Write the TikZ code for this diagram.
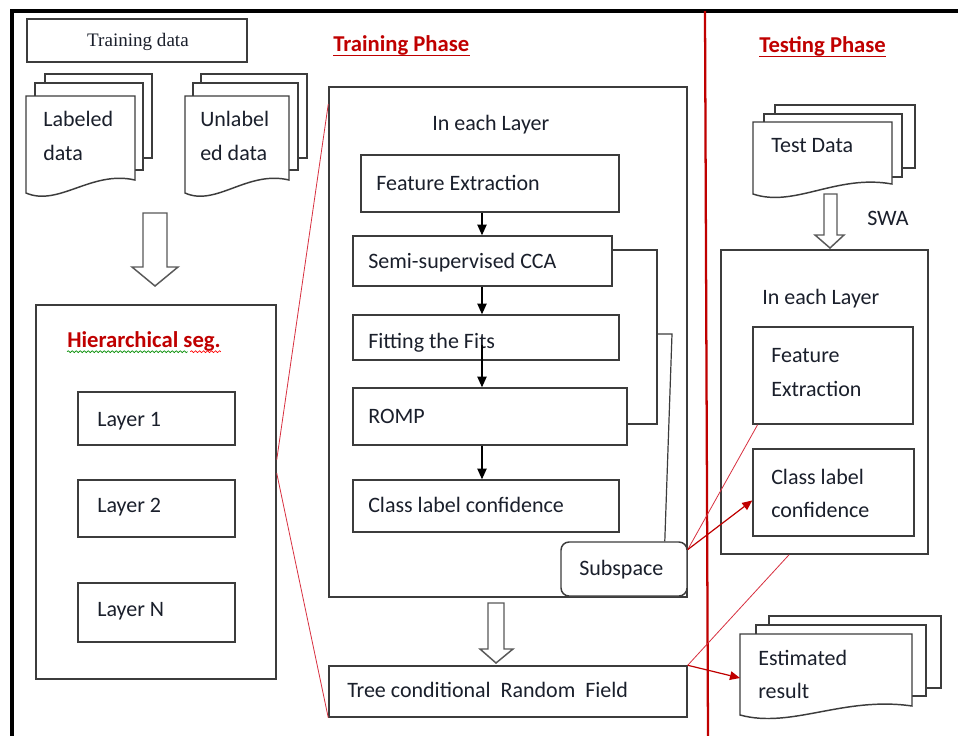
\documentclass[tikz,border=0pt]{standalone}
\usepackage{fontspec}
\setmainfont{Carlito}
\newfontfamily\serifdoc{Liberation Serif}
\usetikzlibrary{fit,arrows.meta,decorations.pathmorphing,calc}
\definecolor{dred}{HTML}{C00000}
\definecolor{lred}{HTML}{D83040}
\definecolor{ink}{HTML}{1A1F2B}
\definecolor{edge}{HTML}{3C3C3C}
\newcommand\frontdoc[5]{%
  \draw[docline] (#1,#2) -- (#3,#2) -- (#3,#5)
    .. controls ({#1+0.6*(#3-#1)},{#5-10}) and ({#1+0.3*(#3-#1)},{#4+14}) .. (#1,#4) -- cycle;}
\begin{document}
\begin{tikzpicture}[x=0.75pt,y=-0.75pt,
  box/.style={draw=edge,line width=1.1pt,fill=white,inner sep=0pt},
  rbox/.style={box,rounded corners=6pt},
  t/.style={anchor=base west,inner sep=0pt,text=ink,font=\fontsize{16.5}{20}\selectfont},
  docline/.style={draw=edge,line width=1.1pt,fill=white},
  hollow/.style={draw=edge!85,line width=1.1pt,fill=white},
  thinred/.style={draw=lred,line width=0.6pt},
  redarr/.style={draw=dred,line width=0.9pt,-{Triangle[width=6.5pt,length=7.5pt]}},
  blkarr/.style={draw=black,line width=0.9pt,-{Triangle[width=7pt,length=8pt]}},
  bracket/.style={draw=edge,line width=0.9pt},
  phase/.style={anchor=base west,inner sep=0pt,text=dred,font=\fontsize{17}{20}\selectfont\bfseries}
]
\useasboundingbox (0,0) rectangle (958,736);
\fill[white] (0,0) rectangle (958,736);

% frame and phase divider
\draw[black,line width=2.4pt] (12,736) -- (12,11) -- (958,11);
\draw[dred,line width=1.7pt] (705,11) -- (708,736);

% ---------- left column ----------
\node[box,fit={(27,19) (247,62)}] (td) {};
\node[anchor=base,inner sep=0pt,font=\serifdoc\fontsize{14.3}{16}\selectfont,text=ink] (tdtext) at (138,46) {Training data};

\draw[docline] (45,74) rectangle (152,158);
\draw[docline] (35,83) rectangle (143,170);
\frontdoc{26}{96}{135}{193}{180}
\node[t] (lab1) at (43,126) {Labeled};
\node[t] (lab2) at (43,160) {data};

\draw[docline] (201,74) rectangle (307,158);
\draw[docline] (193,83) rectangle (298,170);
\frontdoc{185}{96}{289}{193}{180}
\node[t] (unl1) at (200,126) {Unlabel};
\node[t] (unl2) at (200,160) {ed data};

\draw[hollow] (143,213) -- (167,213) -- (167,267) -- (178,267) -- (155,286) -- (132,267) -- (143,267) -- cycle;

\node[box,fit={(36,305) (276,679)}] (hier) {};
\node[phase] (hs) at (67,347) {Hierarchical seg.};
\draw[green!55!black,line width=0.5pt,decorate,decoration={snake,amplitude=0.7pt,segment length=3pt}]
  ([yshift=-3.5pt]hs.base west) -- ([yshift=-3.5pt,xshift=-25pt]hs.base east);
\draw[red,line width=0.5pt,decorate,decoration={snake,amplitude=0.7pt,segment length=3pt}]
  ([yshift=-3.5pt,xshift=-23pt]hs.base east) -- ([yshift=-3.5pt]hs.base east);

\node[box,fit={(78,392) (235,445)}] (l1) {};
\node[t] (l1t) at (97,426) {Layer 1};
\node[box,fit={(78,480) (235,537)}] (l2) {};
\node[t] (l2t) at (97,512) {Layer 2};
\node[box,fit={(78,583) (235,642)}] (ln) {};
\node[t] (lnt) at (97,616) {Layer N};

% ---------- training phase ----------
\node[phase] (tp) at (333,51) {Training Phase};
\draw[dred,line width=0.9pt] ([yshift=-3.5pt]tp.base west) -- ([yshift=-3.5pt]tp.base east);

\node[box,fit={(329,87) (687,597)}] (tr) {};
\node[t] (iel) at (432,130) {In each Layer};

\node[box,fit={(361,155) (619,212)}] (fe) {};
\node[t] (fet) at (376,190) {Feature Extraction};
\node[box,fit={(353,236) (612,286)}] (cca) {};
\node[t] (ccat) at (368,268) {Semi-supervised CCA};
\node[box,fit={(353,315) (619,360)}] (fit) {};
\node[t] (fitt) at (368,348) {Fitting the Fits};
\node[box,fit={(353,388) (627,445)}] (romp) {};
\node[t] (rompt) at (368,423) {ROMP};
\node[box,fit={(353,480) (619,532)}] (cl) {};
\node[t] (clt) at (368,512) {Class label confidence};

\draw[blkarr] (482,0 |- fe.south) -- (482,0 |- cca.north);
\draw[blkarr] (482,0 |- cca.south) -- (482,0 |- fit.north);
\draw[blkarr] (482,345) -- (482,0 |- romp.north);
\draw[blkarr] (482,0 |- romp.south) -- (482,0 |- cl.north);

\coordinate (bt) at (657,250);
\coordinate (bb) at (657,424);
\coordinate (bm) at (657,334);
\coordinate (bk) at (672,334);
\node[rbox,fit={(561,542) (687,596)}] (sub) {};
\node[t] (subt) at (579,575) {Subspace};
\draw[bracket] (bt -| cca.east) -- (bt) -- (bb) -- (bb -| romp.east);
\draw[bracket] (bm) -- (bk) -- ($(sub.north west)!0.82!(sub.north east)$);

\draw[hollow] (488,603) -- (504,603) -- (504,649) -- (513,649) -- (496,663) -- (480,649) -- (488,649) -- cycle;

\node[box,fit={(329,666) (687,717)}] (crf) {};
\node[t] (crft) at (347,697) {Tree conditional\ \ Random\ \ Field};

% ---------- testing phase ----------
\node[phase] (tsp) at (759,52) {Testing Phase};
\draw[dred,line width=0.9pt] ([yshift=-3.5pt]tsp.base west) -- ([yshift=-3.5pt]tsp.base east);

\draw[docline] (775,105) rectangle (915,168);
\draw[docline] (764,114) rectangle (902,177);
\frontdoc{753}{122}{892}{194}{184}
\node[t] (tdt) at (771,152) {Test Data};

\draw[hollow] (824,194) -- (837,194) -- (837,235) -- (844,235) -- (830,248) -- (815,235) -- (824,235) -- cycle;
\node[t] (swa) at (867,225) {SWA};

\node[box,fit={(721,250) (928,554)}] (ts) {};
\node[t] (iel2) at (762,304) {In each Layer};
\node[box,fit={(753,327) (913,424)}] (fe2) {};
\node[t] (fe2a) at (771,362) {Feature};
\node[t] (fe2b) at (771,396) {Extraction};
\node[box,fit={(753,449) (914,536)}] (cl2) {};
\node[t] (cl2a) at (771,484) {Class label};
\node[t] (cl2b) at (771,517) {confidence};

\draw[docline] (769,616) rectangle (941,688);
\draw[docline] (756,625) rectangle (926,696);
\frontdoc{740}{634}{912}{715}{706}
\node[t] (est1) at (758,665) {Estimated};
\node[t] (est2) at (758,698) {result};
\coordinate (estin) at (740,678);

% ---------- red connectors ----------
\draw[thinred] ($(hier.north east)!0.414!(hier.south east)$) -- ($(tr.north west)!0.035!(tr.south west)$);
\draw[thinred] ($(hier.north east)!0.45!(hier.south east)$) -- (crf.south west);
\draw[thinred] ($(sub.north east)!0.15!(sub.south east)$) -- ([xshift=4pt]fe2.south west);
\draw[redarr] ($(sub.north east)!0.15!(sub.south east)$) -- ($(cl2.north west)!0.59!(cl2.south west)$);
\draw[thinred] (crf.north east) -- ($(ts.south west)!0.33!(ts.south east)$);
\draw[redarr] (crf.north east) -- (estin);
\end{tikzpicture}
\end{document}
